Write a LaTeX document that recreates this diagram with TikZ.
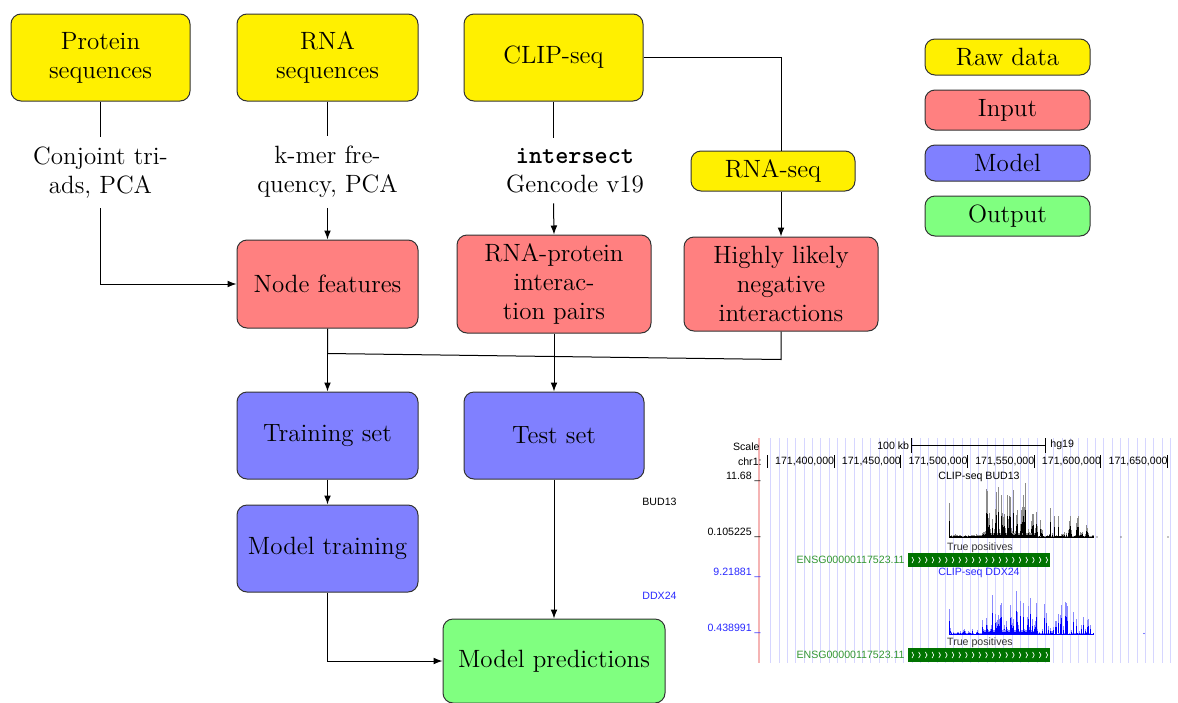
\documentclass[tikz,border=0pt]{standalone}
\usepackage{fontspec}
\usetikzlibrary{arrows.meta}
\newfontfamily\ucsc{Liberation Sans}
\definecolor{rawc}{RGB}{255,240,0}
\definecolor{inc}{RGB}{255,128,128}
\definecolor{modc}{RGB}{128,128,255}
\definecolor{outc}{RGB}{128,255,128}
\definecolor{gridc}{RGB}{214,214,255}
\definecolor{redl}{RGB}{245,180,180}
\definecolor{ensg}{RGB}{50,150,50}
\definecolor{genebar}{RGB}{0,115,0}
\definecolor{bluet}{RGB}{40,40,255}
\definecolor{bluel}{RGB}{140,140,255}
\begin{document}
\begin{tikzpicture}[x=0.5pt,y=-0.5pt,
  box/.style={draw=black!80, rounded corners=5pt, align=center, inner sep=0pt,
    font=\fontsize{12.5}{14.5}\selectfont, line width=0.5pt},
  lbl/.style={align=center, inner sep=0pt, font=\fontsize{12.5}{14.5}\selectfont},
  arr/.style={-{Latex[length=4.5pt,width=3.4pt]}, line width=0.5pt},
  ln/.style={line width=0.5pt},
  ub/.style={font=\ucsc\fontsize{5.3}{6}\selectfont, inner sep=0pt},
  gl/.style={gridc, line width=0.5pt}]
\useasboundingbox (0,0) rectangle (1178,702);

% ---------- flowchart nodes ----------
\node[box, fill=rawc, minimum width=89.5pt, minimum height=43.5pt] (prot) at (100.5,57.5) {Protein\\sequences};
\node[box, fill=rawc, minimum width=90.5pt, minimum height=43.5pt] (rnas) at (327.5,57.5) {RNA\\sequences};
\node[box, fill=rawc, minimum width=89.5pt, minimum height=43.5pt] (clip) at (553.5,57.5) {CLIP-seq};
\node[box, fill=rawc, minimum width=82pt, minimum height=20pt] (rnaseq) at (773,171) {RNA-seq};

\node[lbl, minimum height=35.5pt] (ct) at (100.5,172.5) {Conjoint tri-\\ads, PCA};
\node[lbl, minimum height=35.5pt] (km) at (327.5,172) {k-mer fre-\\quency, PCA};
\node[lbl, minimum height=32.5pt] (is) at (575,170.5) {{\ttfamily\bfseries intersect}\\Gencode v19};

\node[box, fill=inc, minimum width=90.5pt, minimum height=44pt] (nf) at (327.5,284) {Node features};
\node[box, fill=inc, minimum width=97pt, minimum height=49pt] (pairs) at (554,284) {RNA-protein\\interac-\\tion pairs};
\node[box, fill=inc, minimum width=97pt, minimum height=47pt] (neg) at (781,284) {Highly likely\\negative\\interactions};

\node[box, fill=modc, minimum width=90.5pt, minimum height=43.5pt] (train) at (327.5,435.5) {Training set};
\node[box, fill=modc, minimum width=90pt, minimum height=43.5pt] (test) at (554,435.5) {Test set};
\node[box, fill=modc, minimum width=90.5pt, minimum height=43.5pt] (mtrain) at (327.5,548.5) {Model training};
\node[box, fill=outc, minimum width=111pt, minimum height=42pt] (pred) at (554,661) {Model predictions};

% legend
\node[box, fill=rawc, minimum width=82.5pt, minimum height=18pt] (lraw) at (1007.5,57) {Raw data};
\node[box, fill=inc, minimum width=82.5pt, minimum height=20pt] (lin) at (1007.5,110) {Input};
\node[box, fill=modc, minimum width=82.5pt, minimum height=18pt] (lmod) at (1007.5,163) {Model};
\node[box, fill=outc, minimum width=82.5pt, minimum height=20pt] (lout) at (1007.5,216) {Output};

% ---------- connectors ----------
\draw[ln] (prot.south) -- (ct.north);
\draw[arr] (ct.south) |- (nf.west);
\draw[ln] (rnas.south) -- (km.north);
\draw[arr] (km.south) -- (nf.north);
\draw[ln] (clip.south) -- (clip.south |- is.north);
\draw[arr] (clip.south |- is.south) -- (pairs.north);
\draw[ln] (clip.east) -| (neg.north |- rnaseq.north);
\draw[arr] (neg.north |- rnaseq.south) -- (neg.north);
\path (nf.south) ++(0,25) coordinate (j1);
\path (neg.south) ++(0,28) coordinate (j2);
\draw[ln] (nf.south) -- (j1) -- (j2) -- (neg.south);
\draw[arr] (j1) -- (train.north);
\draw[arr] (pairs.south) -- (test.north);
\draw[arr] (train.south) -- (mtrain.north);
\draw[arr] (test.south) -- (pred.north);
\draw[arr] (mtrain.south) |- (pred.west);

% ---------- genome browser panel ----------
\foreach \k in {0,...,48} {
  \draw[gl] ({770.7+\k*8.33},438) -- ({770.7+\k*8.33},663);
}
\draw[redl, line width=0.6pt] (759,438) -- (759,663);

\node[ub, anchor=east] (sc) at (760,447) {Scale};
\node[ub, anchor=east] (chr) at (762,461.5) {chr1:};
\node[ub, anchor=east] (v1) at (761,476.5) {11.68 \_};
\node[ub, anchor=east] (v2) at (761,533) {0.105225 \_};
\node[ub, anchor=east, text=bluet] (v3) at (761,573) {9.21881 \_};
\node[ub, anchor=east, text=bluet] (v4) at (761,629) {0.438991 \_};
\node[ub, anchor=west] (bud) at (642,501.5) {BUD13};
\node[ub, anchor=west, text=bluet] (ddx) at (642,595.5) {DDX24};

% scale bar
\node[ub, anchor=east] (kb) at (909.5,446) {100 kb};
\draw[line width=0.5pt] (911,438) -- (911,453) (911,445.7) -- (1045,445.7) (1045,438) -- (1045,453);
\node[ub, anchor=west] (hg) at (1050,444.5) {hg19};

% chromosome ticks
\foreach \t/\lab in {1/171{,}400{,}000, 2/171{,}450{,}000, 3/171{,}500{,}000, 4/171{,}550{,}000, 5/171{,}600{,}000, 6/171{,}650{,}000} {
  \node[ub, anchor=east] at ({767.3+\t*66.7+0.5},461.5) {\lab};
}
\foreach \t in {0,...,6} {
  \draw[line width=0.5pt] ({767.3+\t*66.7},455) -- ({767.3+\t*66.7},467.5);
}

\node[ub] (t1) at (979,476.5) {CLIP-seq BUD13};
\node[ub, text=bluet] (t2) at (979,573) {CLIP-seq DDX24};

% BUD13 histogram
\pgfmathsetseed{7}
\foreach \i in {0,...,160} {
  \pgfmathsetmacro{\xx}{949+\i*0.9}
  \pgfmathsetmacro{\r}{rnd}
  \pgfmathsetmacro{\hh}{\xx<982 ? 0.8+1.8*\r : (\xx<1038 ? 4+50*\r*\r*\r : 1+32*\r*\r*\r*\r)}
  \draw[black!45, line width=0.35pt] (\xx,537) -- ++(0,-\hh);
  \draw[black, line width=0.35pt] (\xx,537) -- ++(0,-0.5*\hh);
}
\draw[black!45, line width=0.4pt] (949,537) -- ++(0,-34);
\draw[black, line width=0.4pt] (949,537) -- ++(0,-16);
\draw[black, line width=0.5pt] (949,537) -- (1094,537);
\foreach \d in {1097,1121,1168} { \fill (\d,537) circle (0.6); }

% DDX24 histogram
\pgfmathsetseed{11}
\foreach \i in {0,...,160} {
  \pgfmathsetmacro{\xx}{949+\i*0.9}
  \pgfmathsetmacro{\r}{rnd}
  \pgfmathsetmacro{\hh}{\xx<982 ? 1+6*\r*\r*\r : (\xx<1038 ? 4+52*\r*\r*\r : 1+34*\r*\r*\r*\r)}
  \draw[bluel, line width=0.35pt] (\xx,634.5) -- ++(0,-\hh);
  \draw[blue, line width=0.35pt] (\xx,634.5) -- ++(0,-0.55*\hh);
}
\draw[bluel, line width=0.4pt] (949,634.5) -- ++(0,-26);
\draw[blue, line width=0.4pt] (949,634.5) -- ++(0,-14);
\draw[blue, line width=0.5pt] (949,634.5) -- (1094,634.5);
\fill[blue] (1144,633.5) circle (0.6);

% gene tracks
\node[ub, text=black!80] (tp1) at (980,548) {True positives};
\node[ub, anchor=east, text=ensg] (g1) at (905,560) {ENSG00000117523.11};
\fill[genebar] (907.5,553) rectangle (1050,567);
\foreach \k in {0,...,20} { \draw[white, line width=0.35pt] ({912+\k*6.7},557) -- ++(1.6,3) -- ++(-1.6,3); }

\node[ub, text=black!80] (tp2) at (980,643) {True positives};
\node[ub, anchor=east, text=ensg] (g2) at (905,655) {ENSG00000117523.11};
\fill[genebar] (907.5,648) rectangle (1050,662);
\foreach \k in {0,...,20} { \draw[white, line width=0.35pt] ({912+\k*6.7},652) -- ++(1.6,3) -- ++(-1.6,3); }
\end{tikzpicture}
\end{document}
